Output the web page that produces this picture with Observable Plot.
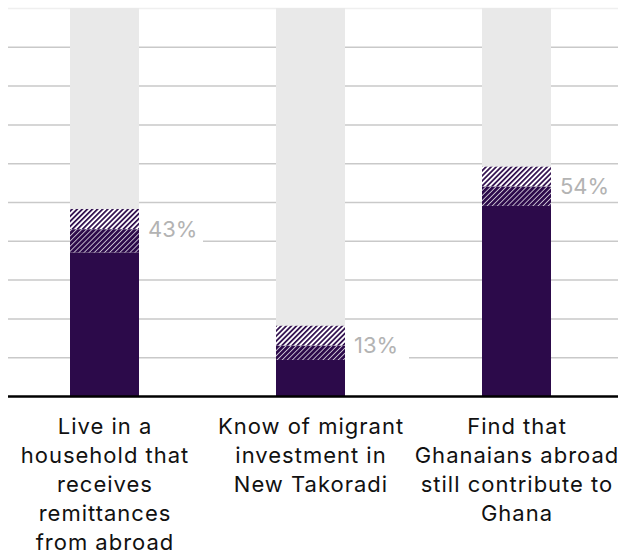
<!DOCTYPE html>
<html>
<head>
<meta charset="utf-8">
<script src="https://cdn.jsdelivr.net/npm/d3@7"></script>
<script src="https://cdn.jsdelivr.net/npm/@observablehq/plot@0.6"></script>
<style>
  html, body { margin: 0; padding: 0; background: #fff; }
  #chart svg { display: block; }
  #chart g[aria-label="x-axis tick label"] text { letter-spacing: 1px; }
</style>
</head>
<body>
<div id="chart"></div>
<script>
const categories = ["remittances", "investment", "contribute"];
const tickLabels = [
  "Live in a\nhousehold that\nreceives\nremittances\nfrom abroad",
  "Know of migrant\ninvestment in\nNew Takoradi",
  "Find that\nGhanaians abroad\nstill contribute to\nGhana"
];
const estimates = [43, 13, 54];
const lowerBounds = [37, 9.3, 49];
const upperBounds = [48.2, 18.1, 59.1];
const gridTicks = [10, 20, 30, 40, 50, 60, 70, 80, 90];
const topTick = [100];

const dark = "#2c0a4a";
const rows = categories.map((c, i) => ({
  cat: c, label: tickLabels[i], est: estimates[i], lo: lowerBounds[i], hi: upperBounds[i], full: 100
}));
const labelOf = new Map(rows.map(d => [d.cat, d.label]));

const svg = Plot.plot({
  width: 618,
  height: 554,
  marginTop: 8,
  marginLeft: 8,
  marginRight: 0,
  marginBottom: 158,
  style: { fontFamily: "Inter, sans-serif", background: "#fff" },
  x: { domain: categories, range: [0, 620], paddingInner: 0.666, paddingOuter: 0.333, axis: null, label: null },
  y: { domain: [0, 100], axis: null },
  marks: [
    Plot.ruleY(gridTicks, { stroke: "#c9c9c9", strokeWidth: 1.5 }),
    Plot.ruleY(topTick, { stroke: "#efefef", strokeWidth: 1.5 }),
    Plot.barY(rows, { x: "cat", y: "full", fill: "#e9e9e9" }),
    Plot.barY(rows, { x: "cat", y: "lo", fill: dark }),
    Plot.barY(rows, { x: "cat", y1: "lo", y2: "est", fill: "url(#hatchDense)" }),
    Plot.barY(rows, { x: "cat", y1: "est", y2: "hi", fill: "url(#hatchLight)" }),
    Plot.barY(rows, { x: "cat", y1: d => d.est - 3.5, y2: d => d.est + 3.5, fill: "#fff", insetLeft: 69, insetRight: -64 }),
    Plot.text(rows, { x: "cat", y: "est", text: d => d.est + "%", dx: 43, textAnchor: "start", fill: "#b3b3b3", fontSize: 22 }),
    Plot.ruleY([0], { stroke: "#000", strokeWidth: 2.5 }),
    Plot.axisX({
      tickSize: 0,
      tickPadding: 17,
      tickFormat: d => labelOf.get(d),
      label: null,
      fontSize: 22,
      lineHeight: 1.32,
      fill: "#111"
    })
  ]
});

// hatch patterns
const ns = "http://www.w3.org/2000/svg";
const defs = document.createElementNS(ns, "defs");
defs.innerHTML = `
  <pattern id="hatchLight" patternUnits="userSpaceOnUse" width="3.6" height="3.6" patternTransform="rotate(45)">
    <rect width="3.6" height="3.6" fill="#fff"></rect>
    <rect width="1.7" height="3.6" fill="${dark}"></rect>
  </pattern>
  <pattern id="hatchDense" patternUnits="userSpaceOnUse" width="3.6" height="3.6" patternTransform="rotate(45)">
    <rect width="3.6" height="3.6" fill="${dark}"></rect>
    <rect width="0.9" height="3.6" fill="#fff" fill-opacity="0.75"></rect>
  </pattern>`;
svg.insertBefore(defs, svg.firstChild);

document.getElementById("chart").appendChild(svg);
</script>
</body>
</html>
